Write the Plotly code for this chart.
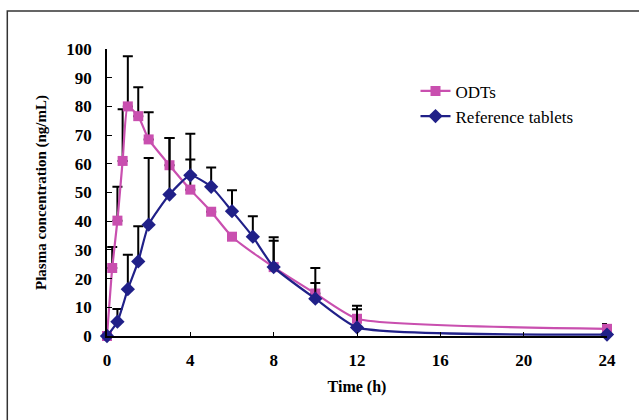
import plotly.graph_objects as go

# ODTs
odt_time = [0, 0.25, 0.5, 0.75, 1, 1.5, 2, 3, 4, 5, 6, 8, 10, 12, 24]
odt_conc = [0, 23.7, 40.2, 61, 80, 76.6, 68.5, 59.5, 51, 43.3, 34.6, 24, 14.8, 6, 2.5]
odt_sd = [0, 7.3, 11.8, 18, 17.5, 10.1, 9.5, 9.5, 10.5, 0, 0, 10.4, 8.9, 4.5, 1.7]

# Reference tablets
ref_time = [0, 0.5, 1, 1.5, 2, 3, 4, 5, 6, 7, 8, 10, 12, 24]
ref_conc = [0, 5, 16.3, 26, 38.8, 49.3, 56, 52, 43.5, 34.6, 24, 13, 3, 0.5]
ref_sd = [0, 4.4, 12, 12.2, 23.2, 19.7, 14.5, 6.7, 7.3, 7.1, 9.2, 5.5, 6.3, 0]

x_ticks = [0, 4, 8, 12, 16, 20, 24]
y_ticks = [0, 10, 20, 30, 40, 50, 60, 70, 80, 90, 100]

MAGENTA = "#C94FAF"
NAVY = "#202088"
FONT = "Liberation Serif"

fig = go.Figure()

fig.add_trace(go.Scatter(
    x=odt_time, y=odt_conc, name="ODTs", mode="lines+markers",
    line=dict(color=MAGENTA, width=2.2, shape="spline", smoothing=0.5),
    marker=dict(symbol="square", size=10, color=MAGENTA),
    error_y=dict(type="data", symmetric=False, array=odt_sd,
                 arrayminus=[0] * len(odt_sd), color="black",
                 thickness=2, width=5),
    cliponaxis=False,
))
fig.add_trace(go.Scatter(
    x=ref_time, y=ref_conc, name="Reference tablets", mode="lines+markers",
    line=dict(color=NAVY, width=2.2, shape="spline", smoothing=0.5),
    marker=dict(symbol="diamond", size=11, color=NAVY),
    error_y=dict(type="data", symmetric=False, array=ref_sd,
                 arrayminus=[0] * len(ref_sd), color="black",
                 thickness=2, width=5),
    cliponaxis=False,
))

# outer frame
fig.add_shape(type="rect", xref="paper", yref="paper",
              x0=-0.1994, x1=1.2, y0=-0.6, y1=1.1324,
              line=dict(color="#333333", width=1.5), layer="above")

fig.update_layout(
    width=639, height=420,
    margin=dict(l=106.7, r=32.3, t=49, b=84, autoexpand=False),
    paper_bgcolor="white", plot_bgcolor="white",
    font=dict(family=FONT, color="black", size=16),
    showlegend=True,
    hovermode=False,
    legend=dict(x=0.617, y=0.915, xanchor="left", yanchor="top",
                bgcolor="rgba(0,0,0,0)", font=dict(family=FONT, size=17)),
    xaxis=dict(
        range=[0, 24], tickvals=x_ticks, ticktext=[str(v) for v in x_ticks],
        showgrid=False, zeroline=False, showline=True, linecolor="black",
        linewidth=1.5, ticks="inside", ticklen=4, tickcolor="black",
        tickfont=dict(family=FONT, size=17, weight="bold"),
        ticklabelstandoff=8, automargin=False,
        title=dict(text="Time (h)", font=dict(family=FONT, size=16, weight="bold"),
                   standoff=12),
    ),
    yaxis=dict(
        range=[0, 100], tickvals=y_ticks, ticktext=[str(v) for v in y_ticks],
        showgrid=False, zeroline=False, showline=True, linecolor="black",
        linewidth=1.5, ticks="inside", ticklen=5, tickcolor="black",
        tickfont=dict(family=FONT, size=17, weight="bold"),
        ticklabelstandoff=10, automargin=False,
        title=dict(text="Plasma concentration (ng/mL)",
                   font=dict(family=FONT, size=15, weight="bold"), standoff=16),
    ),
)

fig.write_html("out.html", config={"displayModeBar": False},
               post_script="document.body.style.margin='0';document.body.style.overflow='hidden';")
